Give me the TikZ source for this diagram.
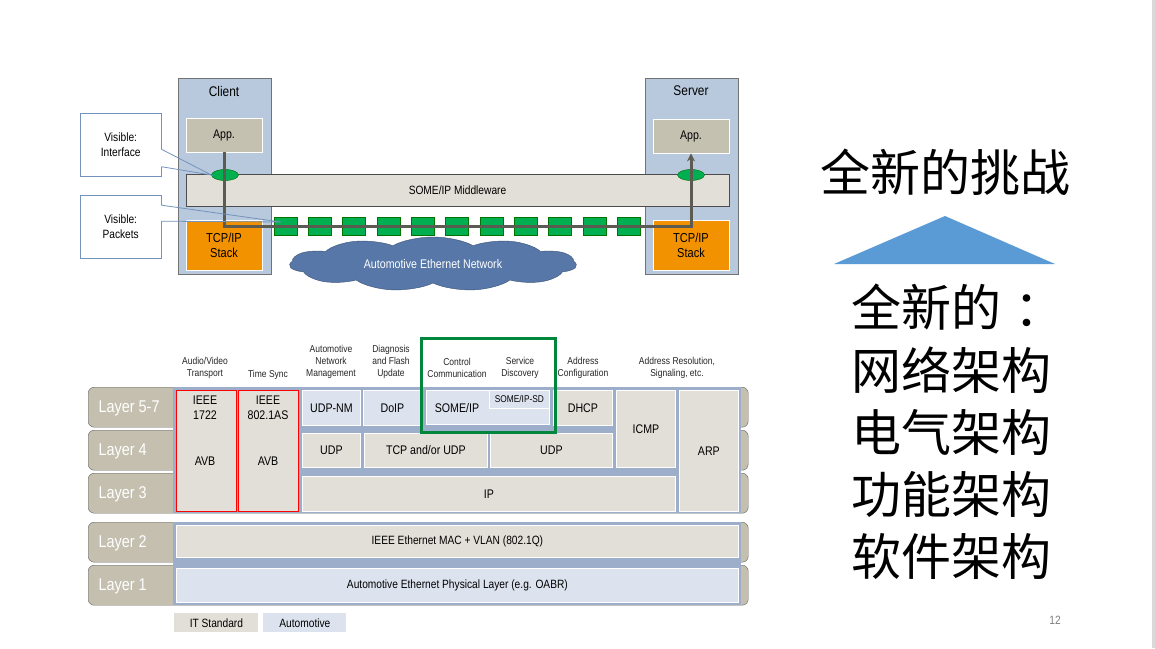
\documentclass[tikz,border=0pt]{standalone}
\usepackage{fontspec}
\setmainfont{Liberation Sans}[FakeStretch=0.85]
\newfontfamily\cjk{Noto Sans CJK SC}
\usetikzlibrary{shapes.symbols,shapes.geometric,arrows.meta}

\definecolor{colblue}{HTML}{B9C9DD}
\definecolor{apptan}{HTML}{C5C1B0}
\definecolor{celltan}{HTML}{E2DFD8}
\definecolor{cellblue}{HTML}{DDE3EE}
\definecolor{stackblue}{HTML}{9DAECB}
\definecolor{tabgray}{HTML}{C4BFAF}
\definecolor{tcporange}{HTML}{F39200}
\definecolor{pkgreen}{HTML}{00B050}
\definecolor{hlgreen}{HTML}{00873C}
\definecolor{cloudblue}{HTML}{5677A8}
\definecolor{calloutblue}{HTML}{7392BC}
\definecolor{wire}{HTML}{5B5B52}
\definecolor{triblue}{HTML}{5B9BD5}
\definecolor{pagegray}{HTML}{7F7F7F}

\tikzset{
  column/.style={draw=black!55, fill=colblue, minimum width=93pt, minimum height=196pt, anchor=north west, inner sep=0pt},
  appbox/.style={draw=white, thick, fill=apptan, minimum width=76pt, minimum height=34pt, font=\fontsize{12.5}{14}\selectfont},
  tcpbox/.style={draw=white, thick, fill=tcporange, minimum width=76pt, minimum height=50pt, align=center, font=\fontsize{13}{15}\selectfont},
  packet/.style={draw=green!45!black, fill=pkgreen, minimum width=23pt, minimum height=18pt, inner sep=0pt},
  iface/.style={ellipse, draw=green!40!black, fill=pkgreen, minimum width=27pt, minimum height=11pt, inner sep=0pt},
  calloutbox/.style={fill=white, minimum width=81pt, minimum height=63pt, anchor=north west, align=center, font=\fontsize{12}{14.5}\selectfont},
  calloutline/.style={draw=calloutblue, thick},
  tab/.style={draw=black!60, fill=tabgray, rounded corners=6pt, minimum width=660pt, minimum height=40pt, anchor=north west},
  laylbl/.style={text=white, anchor=west, font=\fontsize{17}{19}\selectfont},
  tancell/.style={draw=white, thick, fill=celltan, anchor=north west, inner sep=0pt},
  bluecell/.style={draw=white, thick, fill=cellblue, anchor=north west, inner sep=0pt},
  avbcell/.style={tancell, draw=red, line width=1.3pt, minimum width=60pt, minimum height=121pt},
  celltext/.style={font=\fontsize{12.5}{15}\selectfont, align=center},
  head/.style={font=\fontsize{10}{12}\selectfont, align=center, text=black!85},
  cjkline/.style={font=\cjk\fontsize{50}{60}\selectfont, anchor=base west}
}

\begin{document}
\begin{tikzpicture}[x=1pt, y=-1pt]
\useasboundingbox (0,0) rectangle (1155,648);
\fill[white] (0,0) rectangle (1155,648);
\fill[black!15] (1152,0) rectangle (1155,648);

% client / server columns
\node[column] (client) at (178,78) {};
\node[column] (server) at (645,78) {};
\node[font=\fontsize{14}{16}\selectfont] at (224,91) {Client};
\node[font=\fontsize{14}{16}\selectfont] at (691,91) {Server};
\node[appbox] (appC) at (224,135) {App.};
\node[appbox] (appS) at (691,136) {App.};
\node[tcpbox] (tcpC) at (224,245) {TCP/IP\\Stack};
\node[tcpbox] (tcpS) at (691,245) {TCP/IP\\Stack};

% middleware
\node[draw=black!70, fill=celltan, minimum width=543pt, minimum height=32pt, font=\fontsize{12}{14}\selectfont] (mw) at (457.5,190) {SOME/IP Middleware};

% network
\begin{scope}[shift={(433,264)}, xscale=2.5]
\node[cloud, cloud puffs=11, cloud puff arc=115, aspect=2, draw=cloudblue!70!black, fill=cloudblue, minimum width=115pt, minimum height=54pt, transform shape] (net) at (0,0) {};
\end{scope}
\node[text=white, font=\fontsize{12.5}{14}\selectfont] at (net.center) {Automotive Ethernet Network};

\foreach \i in {0,...,10}
  \node[packet] (pk\i) at (285.5+34.3*\i,226) {};

\node[iface] (ifC) at (225,175) {};
\node[iface] (ifS) at (691,175) {};

% signal path
\draw[wire, line width=3pt, -{Stealth[length=8pt,width=8pt]}] (appC.south) -- (appC.south |- pk0) -- (appS.south |- pk10) -- (appS.south);

% callouts
\node[calloutbox] (visI) at (80,113) {Visible:\\Interface};
\node[calloutbox] (visP) at (80,195) {Visible:\\Packets};
\draw[calloutline] ([yshift=-4.5pt]visI.east) -- (visI.north east) -- (visI.north west) -- (visI.south west) -- (visI.south east) -- ([yshift=-22pt]visI.east);
\draw[calloutline] ([yshift=-4.5pt]visI.east) -- (ifC.west) -- ([yshift=-22pt]visI.east);
\draw[calloutline] ([yshift=21.5pt]visP.east) -- (visP.north east) -- (visP.north west) -- (visP.south west) -- (visP.south east) -- ([yshift=5.5pt]visP.east);
\draw[calloutline] ([yshift=21.5pt]visP.east) -- ([xshift=7pt,yshift=4pt]pk0.west) -- ([yshift=5.5pt]visP.east);

% protocol stack headers
\node[head] at (205,368) {Audio/Video\\Transport};
\node[head] at (268,375) {Time Sync};
\node[head] at (331,362) {Automotive\\Network\\Management};
\node[head] at (391,362) {Diagnosis\\and Flash\\Update};
\node[head] at (457,368) {Control\\Communication};
\node[head] at (520,368) {Service\\Discovery};
\node[head] at (583,368) {Address\\Configuration};
\node[head] at (677,368) {Address Resolution,\\Signaling, etc.};

% layer tabs
\node[tab] (l57) at (88,387) {};
\node[tab] (l4) at (88,430) {};
\node[tab] (l3) at (88,473) {};
\node[tab] (l2) at (88,522) {};
\node[tab] (l1) at (88,565) {};
\fill[stackblue] (173,387) rectangle (741,513);
\fill[stackblue] (173,522) rectangle (741,605);
\node[laylbl] at (95,408) {Layer 5-7};
\node[laylbl] at (95,451) {Layer 4};
\node[laylbl] at (95,494) {Layer 3};
\node[laylbl] at (95,543) {Layer 2};
\node[laylbl] at (95,586) {Layer 1};

% cells
\node[avbcell] (avbA) at (175.5,389.5) {};
\node[avbcell] (avbB) at (237.5,389.5) {};
\node[celltext] at (205,408) {IEEE\\1722};
\node[celltext] at (205,461) {AVB};
\node[celltext] at (268,408) {IEEE\\802.1AS};
\node[celltext] at (268,461) {AVB};
\node[bluecell, minimum width=58pt, minimum height=35pt, celltext] (udpnm) at (302,390) {UDP-NM};
\node[bluecell, minimum width=58pt, minimum height=35pt, celltext] (doip) at (363,390) {DoIP};
\node[bluecell, minimum width=123pt, minimum height=34pt] (someip) at (426,390) {};
\node[celltext] at (457,408) {SOME/IP};
\node[bluecell, minimum width=60pt, minimum height=18pt, font=\fontsize{9.8}{11}\selectfont] (sd) at (489,390) {SOME/IP-SD};
\node[tancell, minimum width=59pt, minimum height=35pt, celltext] (dhcp) at (553,390) {DHCP};
\node[tancell, minimum width=59pt, minimum height=77pt, celltext] (icmp) at (616,390) {ICMP};
\node[tancell, minimum width=59pt, minimum height=121pt, celltext] (arp) at (679,390) {ARP};
\node[tancell, minimum width=58pt, minimum height=34pt, celltext] (udpA) at (302,433) {UDP};
\node[tancell, minimum width=123pt, minimum height=34pt, celltext] (tcpudp) at (364,433) {TCP and/or UDP};
\node[tancell, minimum width=122pt, minimum height=34pt, celltext] (udpB) at (490,433) {UDP};
\node[tancell, minimum width=373pt, minimum height=35pt, celltext] (ip) at (302,476) {IP};
\node[tancell, minimum width=562pt, minimum height=32pt, font=\fontsize{12}{14}\selectfont] (mac) at (176,525) {IEEE Ethernet MAC + VLAN (802.1Q)};
\node[bluecell, minimum width=562pt, minimum height=34pt, font=\fontsize{12}{14}\selectfont] (phy) at (176,568) {Automotive Ethernet Physical Layer (e.g. OABR)};

% highlight
\draw[hlgreen, line width=3pt] (421,338) rectangle (555,432);

% legend
\node[tancell, draw=none, minimum width=84pt, minimum height=19pt, font=\fontsize{12}{14}\selectfont] (itstd) at (174,613) {IT Standard};
\node[bluecell, draw=none, minimum width=83pt, minimum height=19pt, font=\fontsize{12}{14}\selectfont] (auto) at (263,613) {Automotive};

\node[text=pagegray, font=\fontsize{12}{14}\selectfont] (pg) at (1055,620) {12};

% right side
\node[font=\cjk\fontsize{50}{60}\selectfont, anchor=base] (title) at (945,191) {全新的挑战};
\fill[triblue] (834,264) -- (945,216) -- (1055,264) -- cycle;
\node[cjkline] (c0) at (848,326) {全新的\kern13pt：};
\node[cjkline] (c1) at (848,389) {网络架构};
\node[cjkline] (c2) at (848,451) {电气架构};
\node[cjkline] (c3) at (848,513) {功能架构};
\node[cjkline] (c4) at (848,575) {软件架构};
\end{tikzpicture}
\end{document}
